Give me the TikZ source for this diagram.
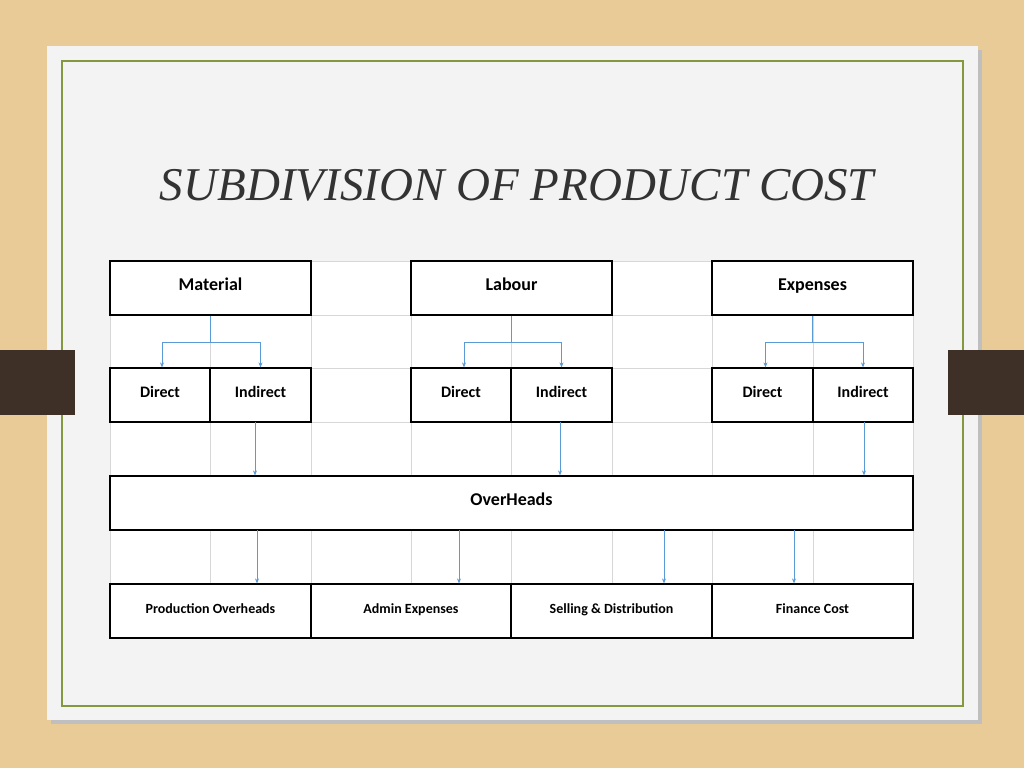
\documentclass[tikz,border=0pt]{standalone}
\usepackage{fontspec}
\setsansfont{Carlito}
\newfontfamily\titlefont{Liberation Serif}
\usetikzlibrary{calc,arrows.meta}
\definecolor{wood}{RGB}{233,203,152}
\definecolor{paper}{RGB}{243,243,243}
\definecolor{frame}{RGB}{132,152,64}
\definecolor{tab}{RGB}{62,48,38}
\definecolor{arrowblue}{RGB}{91,155,213}
\definecolor{gridgray}{RGB}{215,215,215}
\tikzset{
  box/.style={draw=black,line width=1.2pt,fill=white,font=\sffamily\bfseries\fontsize{18}{20}\selectfont,inner sep=0pt,minimum height=54pt,text height=1.6ex,text depth=0.4ex},
  smallbox/.style={box,font=\sffamily\bfseries\fontsize{14}{16}\selectfont},
  midbox/.style={box,font=\sffamily\bfseries\fontsize{16}{18}\selectfont},
  link/.style={draw=arrowblue,line width=0.8pt},
  tip/.style={link,-{Stealth[length=5pt,width=4pt]}}
}
\begin{document}
\begin{tikzpicture}[x=1pt,y=-1pt]
  \useasboundingbox (0,0) rectangle (1024,768);
  % background and slide
  \fill[wood] (0,0) rectangle (1024,768);
  \fill[black!25] (51,50) rectangle (982,724);
  \fill[paper] (47,46) rectangle (978,720);
  \draw[frame,line width=1.2pt] (62,61) rectangle (963,706);
  \fill[tab] (0,350) rectangle (75,415);
  \fill[tab] (948,350) rectangle (1024,415);
  \node[font=\titlefont\itshape\fontsize{47}{50}\selectfont,text=black!80] (title) at (517,185) {SUBDIVISION OF PRODUCT COST};
  % grid
  \fill[white] (110,261) rectangle (913,638);
  \foreach \gx in {110,210,311,411,511,612,712,813,913}
    \draw[gridgray] (\gx,261) -- (\gx,638);
  \foreach \gy in {261,315,368,422,476,530,584,638}
    \draw[gridgray] (110,\gy) -- (913,\gy);
  % cost heads
  \node[box,minimum width=201pt] (mat) at (210.5,288) {Material};
  \node[box,minimum width=201pt] (lab) at (511.5,288) {Labour};
  \node[box,minimum width=201pt] (exp) at (812.5,288) {Expenses};
  % direct and indirect
  \node[midbox,minimum width=100pt] (matd) at (160,395) {Direct};
  \node[midbox,minimum width=101pt] (mati) at (260.5,395) {Indirect};
  \node[midbox,minimum width=100pt] (labd) at (461,395) {Direct};
  \node[midbox,minimum width=101pt] (labi) at (561.5,395) {Indirect};
  \node[midbox,minimum width=101pt] (expd) at (762.5,395) {Direct};
  \node[midbox,minimum width=100pt] (expi) at (863,395) {Indirect};
  % overheads
  \node[box,minimum width=803pt] (ovh) at (511.5,503) {OverHeads};
  \node[smallbox,minimum width=201pt] (prod) at (210.5,611) {Production Overheads};
  \node[smallbox,minimum width=200pt] (adm) at (411,611) {Admin Expenses};
  \node[smallbox,minimum width=201pt] (sell) at (611.5,611) {Selling \& Distribution};
  \node[smallbox,minimum width=201pt] (fin) at (812.5,611) {Finance Cost};
  % forks
  \coordinate (matj) at ($(mat.south)+(0,27)$);
  \coordinate (labj) at ($(lab.south)+(0,27)$);
  \coordinate (expj) at ($(exp.south)+(0,27)$);
  \draw[link] (mat.south) -- (matj);
  \draw[link] (lab.south) -- (labj);
  \draw[link] (exp.south) -- (expj);
  \draw[tip] (matj) -| ($(matd.north)+(2,0)$);
  \draw[tip] (matj) -| (mati.north);
  \draw[tip] (labj) -| ($(labd.north)+(3,0)$);
  \draw[tip] (labj) -| (labi.north);
  \draw[tip] (expj) -| ($(expd.north)+(3,0)$);
  \draw[tip] (expj) -| (expi.north);
  % to overheads
  \coordinate (i1) at (255,422);
  \coordinate (i2) at (560,422);
  \coordinate (i3) at (864,422);
  \draw[tip] (i1) -- (i1 |- ovh.north);
  \draw[tip] (i2) -- (i2 |- ovh.north);
  \draw[tip] (i3) -- (i3 |- ovh.north);
  % from overheads
  \coordinate (o1) at (257,530);
  \coordinate (o2) at (459,530);
  \coordinate (o3) at (664,530);
  \coordinate (o4) at (794,530);
  \draw[tip] (o1) -- (o1 |- prod.north);
  \draw[tip] (o2) -- (o2 |- adm.north);
  \draw[tip] (o3) -- (o3 |- sell.north);
  \draw[tip] (o4) -- (o4 |- fin.north);
\end{tikzpicture}
\end{document}
